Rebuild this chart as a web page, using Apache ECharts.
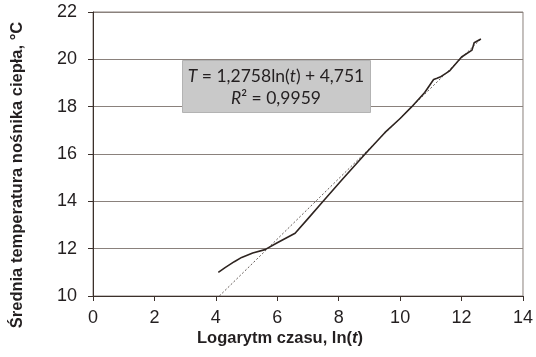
<!DOCTYPE html>
<html><head><meta charset="utf-8">
<script src="https://cdn.jsdelivr.net/npm/echarts@6/dist/echarts.min.js"></script>
<style>html,body{margin:0;padding:0;background:#fff}#c{width:536px;height:357px}</style>
</head><body><div id="c"></div>
<script>
const lnT  = [4.08, 4.3, 4.6, 4.84, 5.2, 5.6, 6.0, 6.58, 7.0, 7.45, 8.1, 8.86, 9.5, 10.0, 10.38, 10.8, 11.09, 11.2, 11.3, 11.6, 12.0, 12.34, 12.41, 12.63];
const temp = [11.0, 11.2, 11.45, 11.63, 11.82, 11.96, 12.25, 12.65, 13.27, 13.94, 14.9, 16.0, 16.9, 17.5, 18.0, 18.6, 19.15, 19.2, 19.25, 19.5, 20.1, 20.39, 20.7, 20.86];
const trendX = [4.114, 12.65];
const slope = 1.2758, intercept = 4.751;
const xTicks = [0, 2, 4, 6, 8, 10, 12, 14];
const yTicks = [10, 12, 14, 16, 18, 20, 22];
const eqLine1 = ['T', ' = 1,2758ln(', 't', ') + 4,751'];
const eqLine2 = ['R', '² = 0,9959'];
const xTitle = ['Logarytm czasu, ln(', 't', ')'];
const yTitle = 'Średnia temperatura nośnika ciepła, °C';

const chart = echarts.init(document.getElementById('c'), null, {renderer: 'canvas'});
const dataPts = lnT.map((x, i) => [x, temp[i]]);
const trendPts = trendX.map(x => [x, slope * x + intercept]);
const txtCol = '#231f20';
chart.setOption({
  animation: false,
  grid: {left: 93, right: 13, top: 12, bottom: 61, show: true, borderColor: '#8a817c', borderWidth: 1, backgroundColor: 'transparent'},
  xAxis: {type: 'value', min: xTicks[0], max: xTicks[xTicks.length-1], interval: 2,
    axisLine: {lineStyle: {color: '#3b302b', width: 1}},
    axisTick: {show: true, inside: false, length: 5, lineStyle: {color: '#3b302b'}},
    axisLabel: {color: txtCol, fontFamily: 'Liberation Sans', fontSize: 18, margin: 13},
    splitLine: {show: false}},
  yAxis: {type: 'value', min: yTicks[0], max: yTicks[yTicks.length-1], interval: 2,
    axisLine: {show: true, lineStyle: {color: '#3b302b', width: 1}},
    axisTick: {show: true, inside: false, length: 5, lineStyle: {color: '#3b302b'}},
    axisLabel: {color: txtCol, fontFamily: 'Liberation Sans', fontSize: 18, margin: 16},
    splitLine: {show: true, lineStyle: {color: '#8a817c', width: 1}}},
  series: [
    {type: 'line', data: trendPts, showSymbol: false, silent: true,
      lineStyle: {color: '#3b302b', width: 0.8, type: [2, 2]}, z: 2},
    {type: 'line', data: dataPts, showSymbol: false, smooth: false,
      lineStyle: {color: '#2e2420', width: 1.6, join: 'round'}, z: 3}
  ],
  graphic: [
    {type: 'rect', left: 182, top: 60, z: 10,
      shape: {width: 188, height: 52},
      style: {fill: '#c9c9c9', stroke: '#b3b3b3', lineWidth: 1}},
    {type: 'text', x: 276, y: 76, z: 11,
      style: {text: '{i|' + eqLine1[0] + '}{n|' + eqLine1[1] + '}{i|' + eqLine1[2] + '}{n|' + eqLine1[3] + '}',
        align: 'center', verticalAlign: 'middle',
        rich: {n: {fontFamily: 'Lato', fontSize: 17.5, fill: txtCol}, i: {fontFamily: 'Lato', fontStyle: 'italic', fontSize: 17.5, fill: txtCol}}}},
    {type: 'text', x: 276, y: 98, z: 11,
      style: {text: '{i|' + eqLine2[0] + '}{n|' + eqLine2[1] + '}',
        align: 'center', verticalAlign: 'middle',
        rich: {n: {fontFamily: 'Lato', fontSize: 17.5, fill: txtCol}, i: {fontFamily: 'Lato', fontStyle: 'italic', fontSize: 17.5, fill: txtCol}}}},
    {type: 'text', x: 280, y: 338, z: 11,
      style: {text: '{b|' + xTitle[0] + '}{bi|' + xTitle[1] + '}{b|' + xTitle[2] + '}',
        align: 'center', verticalAlign: 'middle',
        rich: {b: {fontFamily: 'Liberation Sans', fontWeight: 'bold', fontSize: 16.5, fill: txtCol}, bi: {fontFamily: 'Liberation Sans', fontWeight: 'bold', fontStyle: 'italic', fontSize: 16.5, fill: txtCol}}}},
    {type: 'text', x: 17, y: 175, rotation: Math.PI / 2, z: 11,
      style: {text: yTitle, align: 'center', verticalAlign: 'middle',
        fontFamily: 'Liberation Sans', fontWeight: 'bold', fontSize: 16.5, fill: txtCol}}
  ]
});
</script></body></html>
